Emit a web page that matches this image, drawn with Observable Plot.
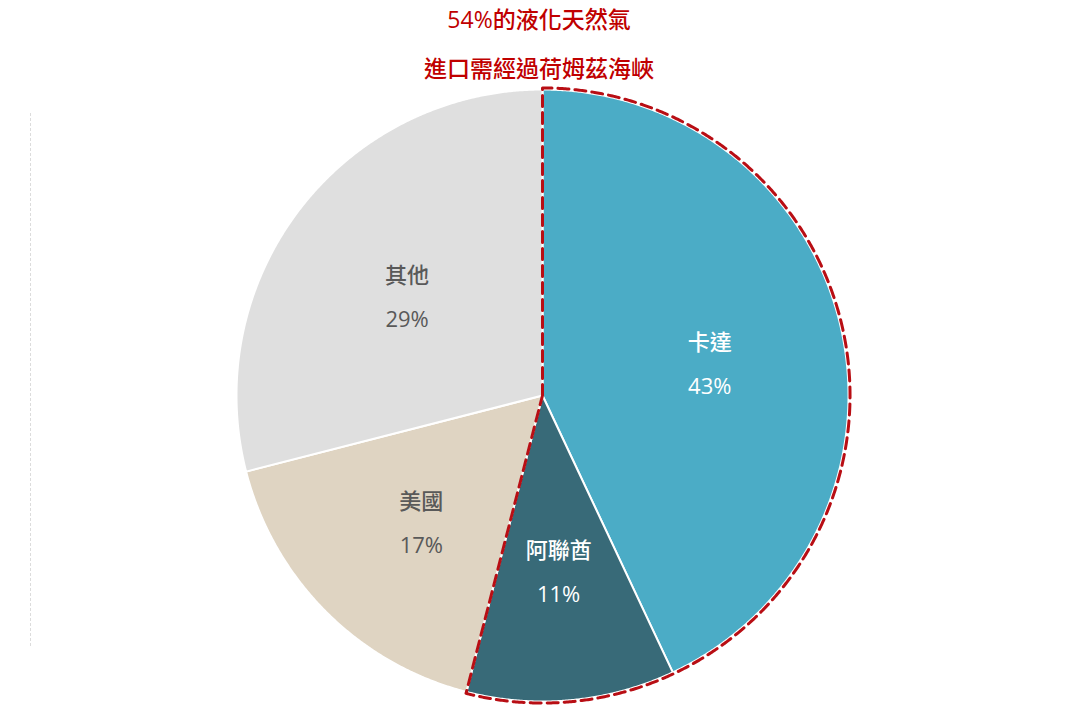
<!DOCTYPE html>
<html>
<head>
<meta charset="utf-8">
<script src="https://cdn.jsdelivr.net/npm/d3@7"></script>
<script src="https://cdn.jsdelivr.net/npm/@observablehq/plot@0.6"></script>
<style>
html,body{margin:0;padding:0;background:#fff;}
#wrap{position:relative;width:1077px;height:718px;overflow:hidden;}
#vline{position:absolute;left:30px;top:113px;height:533px;border-left:1px dashed #dcdcdc;}
</style>
</head>
<body>
<div id="wrap"><div id="vline"></div></div>
<script>
const categories = ["卡達", "阿聯酋", "美國", "其他"];
const shares = [43, 11, 17, 29];
const pctLabels = ["43%", "11%", "17%", "29%"];
const colors = ["#4BACC6", "#386A78", "#DFD4C2", "#DFDFDF"];
const labelColors = ["#ffffff", "#ffffff", "#595959", "#595959"];
const titleLines = ["54%的液化天然氣", "進口需經過荷姆茲海峽"];
const highlighted = ["卡達", "阿聯酋"];

const W = 1077, H = 718, cx = 542, cy = 395, R = 306;
const font = "'Open Sans', 'Noto Sans CJK TC', sans-serif";

const data = categories.map((c, i) => ({cat: c, value: shares[i], pct: pctLabels[i], color: colors[i], lc: labelColors[i]}));
const arcs = d3.pie().sort(null).value(d => d.value)(data);

function arcPoints(a0, a1, r) {
  const n = Math.max(2, Math.ceil((a1 - a0) / 0.005));
  const pts = [];
  for (let k = 0; k <= n; k++) {
    const a = a0 + (a1 - a0) * k / n;
    pts.push([r * Math.sin(a), r * Math.cos(a)]);
  }
  return pts;
}

const slicePts = [];
arcs.forEach(a => {
  const pts = [[0, 0], ...arcPoints(a.startAngle, a.endAngle, 1), [0, 0]];
  pts.forEach(p => slicePts.push({cat: a.data.cat, x: p[0], y: p[1], color: a.data.color}));
});

const hl = arcs.filter(a => highlighted.includes(a.data.cat));
const h0 = d3.min(hl, a => a.startAngle), h1 = d3.max(hl, a => a.endAngle);
const outlinePts = [[0, 0], ...arcPoints(h0, h1, 1.005), [0, 0]].map(p => ({x: p[0], y: p[1]}));

const labelR = 0.56;
const labels = arcs.map(a => {
  const m = (a.startAngle + a.endAngle) / 2;
  return {x: labelR * Math.sin(m), y: labelR * Math.cos(m), text: a.data.cat + "\n" + a.data.pct, lc: a.data.lc};
});

const chart = Plot.plot({
  width: W, height: H,
  margin: 0,
  x: {domain: [-cx / R, (W - cx) / R], axis: null},
  y: {domain: [-(H - cy) / R, cy / R], axis: null},
  style: {fontFamily: font, background: "transparent"},
  marks: [
    Plot.line(slicePts, {x: "x", y: "y", z: "cat", fill: "color", stroke: "#ffffff", strokeWidth: 2, curve: "linear"}),
    Plot.line(outlinePts, {x: "x", y: "y", stroke: "#B80E14", strokeWidth: 3, strokeDasharray: "11,6", fill: "none"}),
    Plot.text(labels, {x: "x", y: "y", text: "text", fill: "lc", fontSize: 22, fontWeight: 500, lineHeight: 2.0}),
    Plot.text([titleLines[0]], {frameAnchor: "top", dy: 11, fill: "#C00000", fontSize: 23, fontWeight: 500}),
    Plot.text([titleLines[1]], {frameAnchor: "top", dy: 60, fill: "#C00000", fontSize: 23, fontWeight: 500})
  ]
});
chart.style.position = "absolute";
chart.style.left = "0";
chart.style.top = "0";
document.getElementById("wrap").appendChild(chart);
</script>
</body>
</html>
